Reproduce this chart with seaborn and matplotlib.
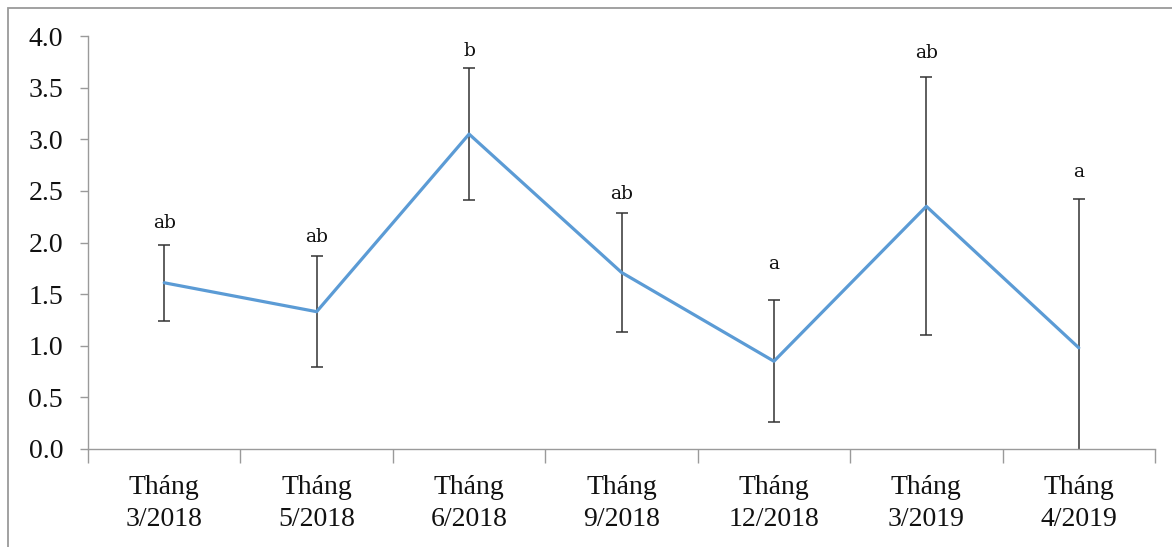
import numpy as np
import pandas as pd
import matplotlib
matplotlib.use("Agg")
import matplotlib.pyplot as plt
from matplotlib.patches import Rectangle
import seaborn as sns

# Sampling months
months = ["Tháng\n3/2018", "Tháng\n5/2018", "Tháng\n6/2018", "Tháng\n9/2018",
          "Tháng\n12/2018", "Tháng\n3/2019", "Tháng\n4/2019"]
# Mean values and their standard deviations
means = [1.61, 1.33, 3.05, 1.71, 0.85, 2.35, 0.98]
errors = [0.37, 0.54, 0.64, 0.58, 0.59, 1.25, 1.44]
# Significance letters
letters = ["ab", "ab", "b", "ab", "a", "ab", "a"]

# Vertical gap (points) between each error-bar cap and its letter
letter_pad = [9, 7, 6, 7, 20, 11, 13]

sns.set_theme(style="white")
plt.rcParams["font.family"] = ["Liberation Serif", "DejaVu Serif"]

df = pd.DataFrame({"pos": np.arange(len(months)), "mean": means, "err": errors})

fig = plt.figure(figsize=(11.72, 5.47), dpi=100)
ax = fig.add_axes([88 / 1172, 98 / 547, 1067 / 1172, 413 / 547])

# outer frame of the chart area
fig.patches.append(Rectangle((8 / 1172, -0.1), 1.2, (539 + 0.1 * 547) / 547,
                             transform=fig.transFigure, fill=False,
                             edgecolor="#9a9a9a", linewidth=1.3, zorder=0))

ax.errorbar(df["pos"], df["mean"], yerr=df["err"], fmt="none",
            ecolor="#333333", elinewidth=1.1, capsize=4.5, capthick=1.1, zorder=2)
sns.lineplot(data=df, x="pos", y="mean", ax=ax, color="#5b9bd5",
             linewidth=2.3, zorder=3)

for x, m, e, t, p in zip(df["pos"], means, errors, letters, letter_pad):
    ax.annotate(t, (x, m + e), xytext=(0, p), textcoords="offset points",
                ha="center", va="bottom", fontsize=13.5,
                fontfamily="DejaVu Serif", color="#111111")

ax.set_xlim(-0.5, len(months) - 0.5)
ax.set_ylim(0, 4.0)
ax.set_yticks(np.arange(0, 4.01, 0.5))
ax.set_yticklabels([f"{v:.1f}" for v in np.arange(0, 4.01, 0.5)])
ax.set_xticks(df["pos"])
ax.set_xticklabels(months)
ax.set_xticks(np.arange(-0.5, len(months)), minor=True)
ax.set_xlabel("")
ax.set_ylabel("")

for side in ("top", "right"):
    ax.spines[side].set_visible(False)
for side in ("left", "bottom"):
    ax.spines[side].set_color("#9a9a9a")
    ax.spines[side].set_linewidth(1.0)

ax.tick_params(axis="y", which="major", length=6, width=1.0, color="#9a9a9a",
               direction="out", left=True, labelsize=20, pad=12, labelcolor="#111111")
ax.tick_params(axis="x", which="major", length=0, pad=19, labelsize=20,
               labelcolor="#111111")
ax.tick_params(axis="x", which="minor", length=10, width=1.0, color="#9a9a9a",
               direction="out", bottom=True)
for lbl in ax.get_xticklabels():
    lbl.set_linespacing(1.35)

fig.savefig("out.png", dpi=100)
